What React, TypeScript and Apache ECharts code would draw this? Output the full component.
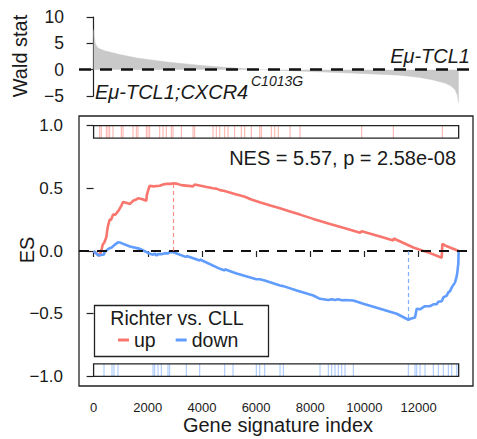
import { useEffect, useRef } from "react";
import * as echarts from "echarts";

const FONT = "'Liberation Sans', Arial, Helvetica, sans-serif";
const RED = "#F8766D";
const BLUE = "#619CFF";
const INK = "#1a1a1a";

const N_GENES = 13480;
const xTicks = [0, 2000, 4000, 6000, 8000, 10000, 12000];
const esTicks = [-1, -0.5, 0, 0.5, 1];

// ranked Wald statistic (gene index, stat)
const waldIdx = [0, 30, 60, 120, 200, 400, 700, 1000, 1600, 2200, 2800, 3500, 4000, 4700, 5400, 6000, 6500, 7500, 8500, 9500, 10500, 11300, 12000, 12500, 13000, 13200, 13350, 13430, 13480];
const waldStat = [7.6, 6.0, 5.0, 4.4, 4.0, 3.6, 3.2, 2.85, 2.2, 1.8, 1.4, 1.05, 0.78, 0.5, 0.25, 0.05, -0.05, -0.25, -0.45, -0.65, -0.85, -1.05, -1.45, -1.9, -2.6, -3.1, -3.8, -4.8, -6.3];

// running enrichment score, "up" signature
const upIdx = [0, 120, 200, 225, 284, 335, 400, 469, 507, 532, 595, 650, 716, 800, 914, 1023, 1086, 1200, 1344, 1455, 1577, 1640, 1775, 1946, 1960, 2009, 2072, 2200, 2441, 2563, 2685, 2869, 2932, 3100, 3239, 3671, 3733, 4176, 4409, 4531, 4668, 4841, 4963, 5210, 5454, 5580, 5823, 6134, 6193, 6562, 6688, 6820, 7253, 7622, 8113, 8730, 9346, 9838, 9900, 10576, 11067, 11080, 11806, 12422, 12854, 12877, 12976, 13480];
const upES = [0, -0.02, -0.036, -0.03, 0.0, 0.05, 0.07, 0.11, 0.17, 0.2, 0.25, 0.25, 0.29, 0.29, 0.32, 0.36, 0.39, 0.385, 0.375, 0.4, 0.41, 0.42, 0.415, 0.4, 0.44, 0.48, 0.52, 0.515, 0.52, 0.53, 0.535, 0.535, 0.54, 0.535, 0.525, 0.515, 0.53, 0.51, 0.5, 0.497, 0.485, 0.478, 0.47, 0.455, 0.44, 0.432, 0.41, 0.388, 0.385, 0.36, 0.352, 0.345, 0.315, 0.29, 0.256, 0.216, 0.177, 0.145, 0.158, 0.116, 0.084, 0.1, 0.028, -0.017, -0.054, 0.057, 0.044, 0];

// running enrichment score, "down" signature
const downIdx = [0, 175, 384, 400, 544, 679, 753, 901, 1000, 1344, 1713, 2083, 2194, 2256, 2329, 2378, 2500, 2637, 2747, 2810, 2944, 3423, 3437, 3918, 3929, 4668, 4841, 4850, 5148, 5284, 6008, 6134, 6318, 6883, 7005, 7500, 8113, 8360, 8667, 8792, 8914, 9036, 9162, 9283, 9590, 9959, 10576, 11192, 11621, 11700, 11868, 11931, 12053, 12175, 12238, 12422, 12544, 12668, 12729, 12854, 12914, 13039, 13098, 13160, 13224, 13346, 13408, 13430, 13467, 13480];
const downES = [0, -0.036, -0.028, -0.01, 0.017, 0.03, 0.045, 0.07, 0.065, 0.036, 0.017, -0.022, -0.03, -0.02, -0.036, -0.025, -0.025, -0.017, -0.02, -0.008, -0.01, -0.049, -0.04, -0.076, -0.068, -0.142, -0.155, -0.145, -0.17, -0.18, -0.225, -0.225, -0.235, -0.275, -0.28, -0.315, -0.355, -0.381, -0.39, -0.385, -0.39, -0.385, -0.392, -0.39, -0.395, -0.42, -0.46, -0.5, -0.548, -0.54, -0.53, -0.46, -0.465, -0.448, -0.44, -0.44, -0.425, -0.425, -0.405, -0.4, -0.37, -0.355, -0.33, -0.32, -0.29, -0.25, -0.2, -0.17, -0.1, 0];

// positions of signature genes in the ranking
const upRug = [225, 284, 469, 532, 595, 716, 1023, 1086, 1455, 1577, 1640, 1946, 2009, 2072, 2441, 2563, 2685, 2869, 2932, 3239, 3671, 3733, 4409, 4531, 4657, 4841, 4963, 5210, 5454, 5580, 5823, 6134, 6193, 6562, 6688, 6820, 7253, 7622, 9900, 11067, 12877];
const downRug = [384, 679, 753, 901, 2194, 2256, 2378, 2500, 2747, 2810, 3423, 3918, 4841, 5148, 6008, 6134, 6318, 6883, 7005, 8360, 8667, 8792, 8914, 9036, 9162, 9283, 9590, 11621, 11868, 11931, 12053, 12238, 12544, 12729, 12914, 13098, 13224, 13408, 13467];

const upRugBand = [0.9, 1.0];
const downRugBand = [-1.0, -0.9];

const X_MIN = -539;
const X_MAX = 14009;
const ES_LIM = 1.076;

const minusFmt = (digits: number) => (v: number) =>
  (v < 0 ? "\u2212" : "") + Math.abs(v).toFixed(digits);

export default function App() {
  const ref = useRef<HTMLDivElement>(null);

  useEffect(() => {
    if (!ref.current) return;
    const chart = echarts.init(ref.current, undefined, { renderer: "svg" });

    const waldData = waldIdx.map((x, i) => [x, waldStat[i]]);
    const upData = upIdx.map((x, i) => [x, upES[i]]);
    const downData = downIdx.map((x, i) => [x, downES[i]]);

    let upPeak = 0;
    upES.forEach((v, i) => { if (v > upES[upPeak]) upPeak = i; });
    let downPeak = 0;
    downES.forEach((v, i) => { if (v < downES[downPeak]) downPeak = i; });

    const mainW = 394;
    const topW = 398;
    const topMax = X_MIN + ((X_MAX - X_MIN) * topW) / mainW;

    const rugLines = (color: string) => (params: any, api: any) => {
      const a = api.coord([api.value(0), api.value(1)]);
      const b = api.coord([api.value(0), api.value(2)]);
      return {
        type: "line",
        shape: { x1: a[0], y1: a[1], x2: b[0], y2: b[1] },
        style: { stroke: color, lineWidth: 1, opacity: 0.6 },
      };
    };

    const boxItem = (params: any, api: any) => {
      const p1 = api.coord([api.value(0), api.value(3)]);
      const p2 = api.coord([api.value(1), api.value(2)]);
      return {
        type: "rect",
        shape: { x: p1[0], y: p1[1], width: p2[0] - p1[0], height: p2[1] - p1[1] },
        style: { fill: "none", stroke: "#222", lineWidth: 1.3 },
      };
    };

    const txt = (text: string, x: number, y: number, size: number, opts: any = {}) => ({
      type: "text",
      x,
      y,
      rotation: opts.rotation || 0,
      style: {
        text,
        font: `${opts.italic ? "italic " : ""}${size}px ${FONT}`,
        fill: INK,
        align: opts.align || "left",
        verticalAlign: "middle",
        textAlign: opts.align || "left",
        textVerticalAlign: "middle",
      },
      z: 10,
    });

    chart.setOption({
      animation: false,
      textStyle: { fontFamily: FONT },
      grid: [
        { left: 79, top: 17, width: topW, height: 79, show: false },
        {
          left: 79, top: 116, width: mainW, height: 270, show: true,
          borderColor: "#222", borderWidth: 1.3, backgroundColor: "transparent",
        },
      ],
      xAxis: [
        { gridIndex: 0, type: "value", min: X_MIN, max: topMax, show: false },
        {
          gridIndex: 1, type: "value", min: X_MIN, max: X_MAX,
          axisLine: { show: false },
          splitLine: { show: false },
          axisTick: { show: true, customValues: xTicks, length: 6, lineStyle: { color: "#222", width: 1.2 } },
          axisLabel: {
            customValues: xTicks, fontSize: 13, color: INK, margin: 15, fontFamily: FONT,
            formatter: (v: number) => String(v),
          },
        },
      ],
      yAxis: [
        {
          gridIndex: 0, type: "value", min: -5, max: 10, interval: 5,
          axisLine: { show: true, lineStyle: { color: "#222", width: 1.2 } },
          splitLine: { show: false },
          axisTick: { show: true, length: 7, lineStyle: { color: "#222", width: 1.2 } },
          axisLabel: { fontSize: 17.5, color: INK, margin: 15, fontFamily: FONT, formatter: minusFmt(0) },
        },
        {
          gridIndex: 1, type: "value", min: -ES_LIM, max: ES_LIM,
          axisLine: { show: false },
          splitLine: { show: false },
          axisTick: { show: true, customValues: esTicks, length: 7, lineStyle: { color: "#222", width: 1.2 } },
          axisLabel: { customValues: esTicks, fontSize: 17, color: INK, margin: 16, fontFamily: FONT, formatter: minusFmt(1) },
        },
      ],
      legend: {
        data: ["up", "down"],
        left: 118,
        top: 329,
        padding: 0,
        icon: "rect",
        itemWidth: 11,
        itemHeight: 3,
        itemGap: 20,
        z: 20,
        textStyle: { fontSize: 19.5, color: INK, fontFamily: FONT, lineHeight: 22 },
      },
      series: [
        {
          name: "wald",
          type: "line",
          xAxisIndex: 0, yAxisIndex: 0,
          data: waldData,
          showSymbol: false,
          symbol: "none",
          clip: false,
          lineStyle: { width: 0.5, color: "#C9C9C9" },
          areaStyle: { color: "#C9C9C9", opacity: 1 },
          markLine: {
            silent: true, symbol: "none", label: { show: false },
            lineStyle: { color: "#111", type: [12, 9], width: 2.6 },
            data: [{ yAxis: 0 }],
          },
          z: 2,
        },
        {
          name: "upRug", type: "custom", xAxisIndex: 1, yAxisIndex: 1,
          data: upRug.map((x) => [x, upRugBand[0], upRugBand[1]]),
          renderItem: rugLines(RED), z: 2,
        },
        {
          name: "downRug", type: "custom", xAxisIndex: 1, yAxisIndex: 1,
          data: downRug.map((x) => [x, downRugBand[0], downRugBand[1]]),
          renderItem: rugLines(BLUE), z: 2,
        },
        {
          name: "rugBox", type: "custom", xAxisIndex: 1, yAxisIndex: 1,
          data: [
            [0, N_GENES, upRugBand[0], upRugBand[1]],
            [0, N_GENES, downRugBand[0], downRugBand[1]],
          ],
          renderItem: boxItem, z: 3,
        },
        {
          name: "up",
          type: "line",
          xAxisIndex: 1, yAxisIndex: 1,
          data: upData,
          showSymbol: false, symbol: "none",
          color: RED,
          lineStyle: { width: 2.6, color: RED },
          markLine: {
            silent: true, symbol: "none", label: { show: false },
            data: [
              { yAxis: 0, lineStyle: { color: "#111", type: [10, 8], width: 2.2 } },
              [
                { coord: [upIdx[upPeak], 0], lineStyle: { color: RED, type: [4, 3], width: 1.2, opacity: 0.8 } },
                { coord: [upIdx[upPeak], upES[upPeak]] },
              ],
            ],
          },
          z: 4,
        },
        {
          name: "down",
          type: "line",
          xAxisIndex: 1, yAxisIndex: 1,
          data: downData,
          showSymbol: false, symbol: "none",
          color: BLUE,
          lineStyle: { width: 2.6, color: BLUE },
          markLine: {
            silent: true, symbol: "none", label: { show: false },
            data: [
              [
                { coord: [downIdx[downPeak], 0], lineStyle: { color: BLUE, type: [4, 3], width: 1.2, opacity: 0.8 } },
                { coord: [downIdx[downPeak], downES[downPeak]] },
              ],
            ],
          },
          z: 4,
        },
      ],
      graphic: [
        txt("Wald stat", 20, 56, 20, { rotation: Math.PI / 2, align: "center" }),
        txt("E\u03bc-TCL1", 470, 56, 20, { italic: true, align: "right" }),
        txt("E\u03bc-TCL1;CXCR4", 95, 92, 20, { italic: true }),
        txt("C1013G", 251, 81, 14, { italic: true }),
        txt("NES = 5.57, p = 2.58e-08", 456, 158, 20, { align: "right" }),
        txt("ES", 27, 250, 20, { rotation: Math.PI / 2, align: "center" }),
        txt("Gene signature index", 278, 425, 20, { align: "center" }),
        {
          type: "rect",
          shape: { x: 94.5, y: 305.5, width: 174, height: 51 },
          style: { fill: "none", stroke: "#222", lineWidth: 1.3 },
          z: 1,
        },
        txt("Richter vs. CLL", 177, 318, 19.5, { align: "center" }),
      ],
    });

    return () => chart.dispose();
  }, []);

  return (
    <div
      ref={ref}
      style={{ position: "fixed", left: 0, top: 0, width: 477, height: 439, background: "#fff" }}
    />
  );
}
